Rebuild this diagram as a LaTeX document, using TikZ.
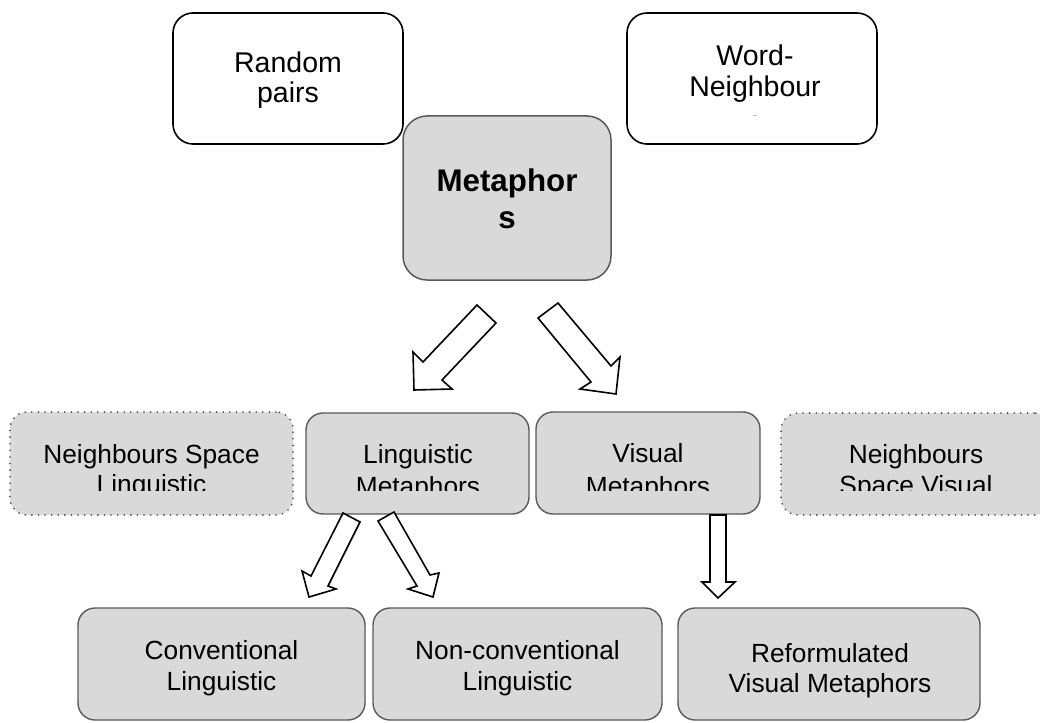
\documentclass[tikz,border=0pt]{standalone}
\usepackage{fontspec}
\setmainfont{Liberation Sans}
\definecolor{boxfill}{HTML}{D9D9D9}
\definecolor{boxline}{HTML}{595959}
\definecolor{dotline}{HTML}{404040}
\begin{document}
\begin{tikzpicture}[x=1pt,y=-1pt,
  whitebox/.style={draw=black, fill=white, line width=1.6pt, rounded corners=20pt, inner sep=0pt, outer sep=0pt},
  metbox/.style={draw=boxline, fill=boxfill, line width=1.5pt, rounded corners=24pt, inner sep=0pt, outer sep=0pt},
  graybox/.style={draw=boxline, fill=boxfill, line width=1.4pt, rounded corners=17pt, inner sep=0pt, outer sep=0pt},
  dotbox/.style={draw=dotline, fill=boxfill, line width=1.8pt, dash pattern=on 0pt off 6.6pt, line cap=round, rounded corners=17pt, inner sep=0pt, outer sep=0pt},
  txt/.style={anchor=base, inner sep=0pt, outer sep=0pt, font=\fontsize{26.3}{30}\selectfont},
  toptxt/.style={txt, font=\fontsize{28.5}{32}\selectfont},
  bigtxt/.style={txt, font=\fontsize{31.3}{36}\selectfont\bfseries},
  blockarrow/.style={draw=black, fill=white, line width=1.6pt, line join=miter}
]
\useasboundingbox (0,0) rectangle (1040,722);
\clip (0,0) rectangle (1040,722);

% top row
\node[whitebox, minimum width=230pt, minimum height=131pt] (rp) at (288,78.5) {};
\node[toptxt] (rp1) at (288,73) {Random};
\node[toptxt] (rp2) at (288,103) {pairs};

\node[whitebox, minimum width=250pt, minimum height=131pt] (wn) at (752,78.5) {};
\begin{scope}
  \clip (600,0) rectangle (900,116);
  \node[toptxt] (wn1) at (755,65.5) {Word-};
  \node[toptxt] (wn2) at (755,96.5) {Neighbour};
  \node[toptxt] (wn3) at (755,131.5) {s};
\end{scope}

\node[metbox, minimum width=208pt, minimum height=164pt] (met) at (507,198) {};
\node[bigtxt] (met1) at (507,191) {Metaphor};
\node[bigtxt] (met2) at (507,228) {s};

% middle row
\node[dotbox, minimum width=283pt, minimum height=103pt] (nsl) at (151.5,463.5) {};
\node[graybox, minimum width=223pt, minimum height=101pt] (lm) at (417.5,463.5) {};
\node[graybox, minimum width=224pt, minimum height=102pt] (vm) at (648,463) {};
\node[dotbox, minimum width=270pt, minimum height=102pt] (nsv) at (916,464) {};
\begin{scope}
  \clip (0,400) rectangle (1040,490.5);
  \node[txt] (nsl1) at (151.5,463) {Neighbours Space};
  \node[txt] (nsl2) at (151.5,493) {Linguistic};
  \node[txt] (lm1) at (418,463) {Linguistic};
  \node[txt] (lm2) at (418,495) {Metaphors};
  \node[txt] (vm1) at (648,462) {Visual};
  \node[txt] (vm2) at (648,495) {Metaphors};
  \node[txt] (nsv1) at (916,463) {Neighbours};
  \node[txt] (nsv2) at (916,494) {Space Visual};
\end{scope}

% bottom row
\node[graybox, minimum width=287pt, minimum height=112pt] (cl) at (221.5,664) {};
\node[txt] (cl1) at (221.5,659) {Conventional};
\node[txt] (cl2) at (221.5,690) {Linguistic};

\node[graybox, minimum width=289pt, minimum height=112pt] (ncl) at (517.5,664) {};
\node[txt] (ncl1) at (517.5,659) {Non-conventional};
\node[txt] (ncl2) at (517.5,690) {Linguistic};

\node[graybox, minimum width=302pt, minimum height=112pt] (rvm) at (829,664) {};
\node[txt] (rvm1) at (830,662) {Reformulated};
\node[txt] (rvm2) at (830,692) {Visual Metaphors};

% block arrows
\draw[blockarrow] (477,305) -- (496,323) -- (442,380) -- (452,389) -- (414,390) -- (413,352) -- (423,362) -- cycle;
\draw[blockarrow] (558,303) -- (611,366) -- (620,357) -- (616,394) -- (580,389) -- (591,382) -- (538,318) -- cycle;
\draw[blockarrow] (343,513) -- (360,522) -- (328,586) -- (336,589) -- (309,597) -- (302,571) -- (311,576) -- cycle;
\draw[blockarrow] (394,512) -- (430,575) -- (439,573) -- (433,597) -- (408,589) -- (417,586) -- (378,521) -- cycle;
\draw[blockarrow] (710,515) -- (726,515) -- (726,582) -- (735,582) -- (718,598) -- (702,582) -- (710,582) -- cycle;
\end{tikzpicture}
\end{document}
